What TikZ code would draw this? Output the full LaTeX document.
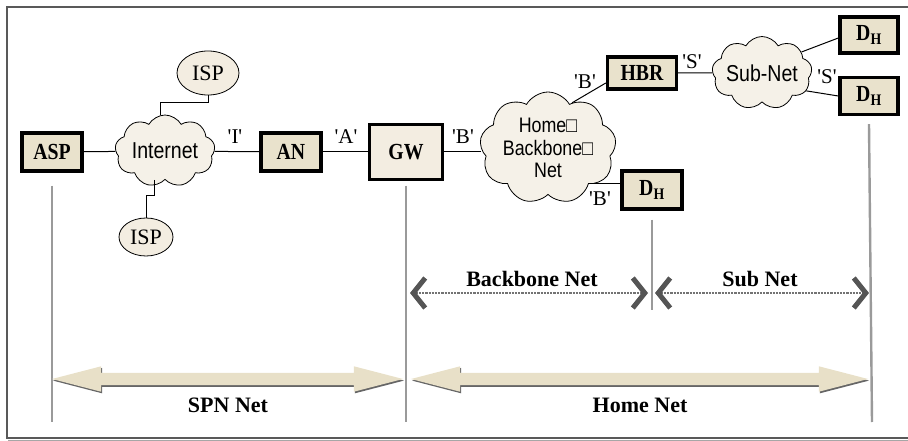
\documentclass[tikz,border=0pt]{standalone}
\usepackage{fontspec}
\setmainfont{Liberation Serif}
\newfontfamily\cloudfont[FakeStretch=0.85]{Liberation Sans}
\newfontfamily\boxfont[FakeStretch=0.86]{Liberation Serif}
\usetikzlibrary{shapes.symbols,shapes.geometric,shapes.arrows,arrows.meta,shadows,calc}

\definecolor{boxfill}{HTML}{E9E2CC}
\definecolor{gwfill}{HTML}{F3EDE1}
\definecolor{cloudfill}{HTML}{F5F1E8}
\definecolor{spanfill}{HTML}{E8E0C8}
\definecolor{rulegray}{HTML}{9A9A9A}
\definecolor{tipgray}{HTML}{555555}

\newcommand{\sq}[1]{\textquotesingle#1\textquotesingle}

\tikzset{
  >={Straight Barb[length=12pt, width=30pt, line width=5pt, color=tipgray]},
  box/.style={draw, line width=3.4pt, fill=boxfill, inner sep=0pt,
    minimum width=60pt, minimum height=38pt,
    font=\fontsize{23}{25}\boxfont\bfseries},
  gwbox/.style={box, line width=2.2pt, fill=gwfill,
    minimum width=73pt, minimum height=55pt},
  net/.style={cloud, draw, line width=0.8pt, fill=cloudfill, cloud puffs=9,
    cloud puff arc=120, cloud ignores aspect, inner sep=0pt, align=center,
    font=\fontsize{23}{25}\cloudfont},
  isp/.style={ellipse, draw, line width=0.8pt, fill=gwfill, inner sep=0pt,
    font=\fontsize{22}{24}\selectfont},
  link/.style={line width=1pt},
  iface/.style={font=\fontsize{21}{23}\selectfont, inner sep=0pt},
  divider/.style={rulegray, line width=2.4pt},
  span/.style={double arrow, fill=spanfill, inner xsep=0pt, inner ysep=6pt,
    minimum width=25pt, double arrow head extend=6.5pt,
    double arrow tip angle=29,
    drop shadow={shadow xshift=1pt, shadow yshift=-1.6pt,
      fill=black!60, opacity=1}},
  subspan/.style={densely dotted, line width=2.2pt, black!55, <->},
  netname/.style={font=\fontsize{22}{24}\selectfont\bfseries, inner sep=0pt},
}

\begin{document}
\begin{tikzpicture}[x=1pt, y=-1pt]
  \useasboundingbox (0,0) rectangle (908,441);
  % frame
  \draw[black!65, line width=1.3pt] (908,7) -- (7,7) -- (7,438) -- (908,438);
  \draw[black!35, line width=1pt] (8,440) -- (908,440);

  % service provider side
  \node[box] (asp) at (52,152) {ASP};
  \node[net, minimum width=100pt, minimum height=72pt] (inet) at (165,151) {Internet};
  \node[isp, minimum width=62pt, minimum height=44pt] (ispt) at (208,73) {ISP};
  \node[isp, minimum width=54pt, minimum height=38pt] (ispb) at (146,237) {ISP};
  \node[box] (an) at (291,152) {AN};
  \node[gwbox] (gw) at (406,152) {GW};

  % home side
  \node[net, minimum width=130pt, minimum height=112pt,
    font=\fontsize{21}{22.5}\cloudfont] (home) at (548,148)
    {Home□\\Backbone□\\Net};
  \node[box, minimum width=69pt, minimum height=32pt] (hbr) at (642,73) {HBR};
  \node[net, minimum width=100pt, minimum height=73pt] (subnet) at (762,73) {Sub-Net};
  \node[box, minimum width=58pt, minimum height=36pt] (dhtop) at (869,35) {D\textsubscript{H}};
  \node[box, minimum width=58pt, minimum height=37pt] (dhmid) at (869,96) {D\textsubscript{H}};
  \node[box] (dhlow) at (652,190) {D\textsubscript{H}};

  % links
  \draw[link] (asp) -- (inet);
  \draw[link] (inet) -- (an);
  \draw[link] (an) -- (gw);
  \draw[link] (gw) -- (gw -| home.west);
  \draw[link] (ispt.south) -- ++(0,7) -| ([xshift=-5pt]inet.north);
  \draw[link] ([xshift=-11pt]inet.south) -- ++(0,16) -| (ispb.north);
  \draw[link] (home.62) -- ([yshift=-10pt]hbr.west);
  \draw[link] (home.-38) -- (home.-38 -| dhlow.west);
  \draw[link] (hbr) -- (subnet);
  \draw[link] (subnet.28) -- ([yshift=-3pt]dhtop.west);
  \draw[link] (subnet.-22) -- (dhmid.west);

  % interface labels
  \node[iface] (ifi) at (235,137) {\sq{I}};
  \node[iface] (ifa) at (346,137) {\sq{A}};
  \node[iface] (ifb) at (463,137) {\sq{B}};
  \node[iface] (ifbup) at (585,82) {\sq{B}};
  \node[iface] (ifblow) at (600,199) {\sq{B}};
  \node[iface] (ifs) at (692,62) {\sq{S}};
  \node[iface] (ifsdh) at (827,77) {\sq{S}};

  % borders between the nets
  \coordinate (floor) at (0,422);
  \draw[divider] ([yshift=-13pt]asp.south) -- (asp.south |- floor);
  \draw[divider] ([yshift=-5pt]gw.south) -- (gw.south |- floor);
  \draw[divider] ([yshift=-9pt]dhlow.south) -- (dhlow.south |- 0,310);
  \draw[divider] ([yshift=-8pt]dhmid.south) -- ($(dhmid.south |- floor)+(3,0)$);

  % spans
  \coordinate (bbl) at (410,293);
  \coordinate (bbr) at (648,293);
  \coordinate (sbl) at (655,293);
  \coordinate (sbr) at (869,293);
  \draw[subspan] (bbl) -- (bbr);
  \draw[subspan] (sbl) -- (sbr);
  \node[netname] (bbname) at (532,279) {Backbone Net};
  \node[netname] (sbname) at (760,279) {Sub Net};

  \node[span, minimum height=351pt] (spn) at (227.5,379) {};
  \node[span, minimum height=457pt] (homenet) at (639.5,379) {};
  \node[netname] (spnname) at (228,405) {SPN Net};
  \node[netname] (homename) at (640,405) {Home Net};
\end{tikzpicture}
\end{document}
